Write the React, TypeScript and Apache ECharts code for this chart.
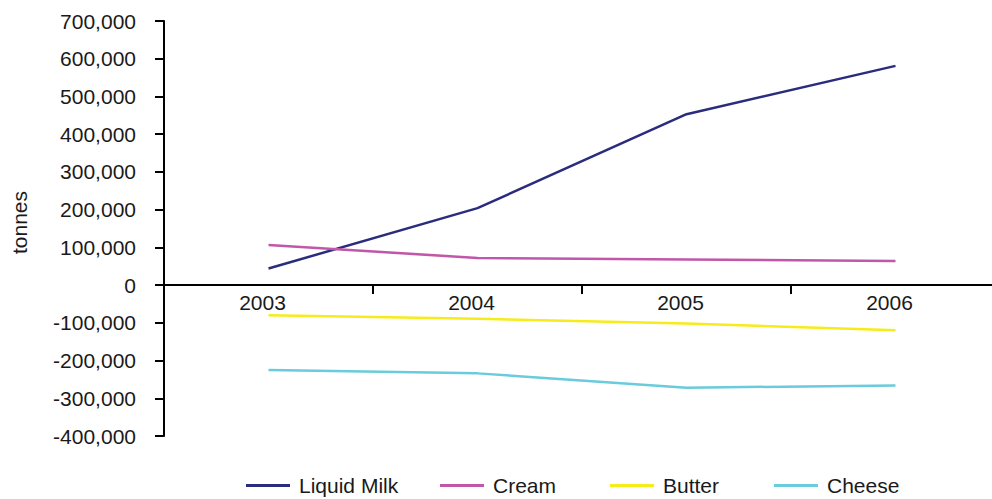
import React, { useEffect, useRef } from "react";
import * as echarts from "echarts";

const years = ["2003", "2004", "2005", "2006"];
const liquidMilk = [44000, 204000, 453000, 581000];
const cream = [106000, 72000, 68000, 64000];
const butter = [-80000, -89000, -102000, -120000];
const cheese = [-225000, -234000, -272000, -266000];

const seriesNames = ["Liquid Milk", "Cream", "Butter", "Cheese"];
const seriesColors = ["#2B2C7D", "#C157A9", "#F6EC1A", "#6ACBDC"];
const seriesData = [liquidMilk, cream, butter, cheese];
const legendLefts = [241, 435, 605, 769];

const FONT = "'Liberation Sans', Arial, sans-serif";

export default function App() {
  const ref = useRef<HTMLDivElement>(null);
  useEffect(() => {
    if (!ref.current) return;
    const chart = echarts.init(ref.current, null, { renderer: "svg" });
    const fmt = (v: number) => {
      const s = Math.abs(v).toString().replace(/\B(?=(\d{3})+(?!\d))/g, ",");
      return (v < 0 ? "-" : "") + s;
    };
    chart.setOption({
      animation: false,
      backgroundColor: "#ffffff",
      textStyle: { fontFamily: FONT },
      grid: { left: 164, right: 0, top: 21, bottom: 63, containLabel: false },
      legend: seriesNames.map((n, i) => ({
        data: [n],
        left: legendLefts[i],
        top: 470,
        icon: "rect",
        itemWidth: 44,
        itemHeight: 3,
        itemGap: 9,
        textStyle: {
          fontSize: 21,
          lineHeight: 21,
          color: "#1a1a1a",
          fontFamily: FONT,
          padding: [0, 0, 0, 4],
        },
      })),
      xAxis: {
        type: "category",
        data: years,
        boundaryGap: true,
        offset: -151,
        axisLine: { onZero: false, lineStyle: { color: "#000", width: 2 } },
        axisTick: { show: true, length: 9, lineStyle: { color: "#000", width: 2 } },
        axisLabel: {
          fontSize: 21,
          color: "#1a1a1a",
          margin: 7,
          fontFamily: FONT,
          padding: [0, 12, 0, 0],
        },
        splitLine: { show: false },
      },
      yAxis: {
        type: "value",
        min: -400000,
        max: 700000,
        interval: 100000,
        name: "tonnes",
        nameLocation: "middle",
        nameRotate: 90,
        nameGap: 134,
        nameTextStyle: {
          fontSize: 21,
          color: "#1a1a1a",
          fontFamily: FONT,
          padding: [0, 0, 0, 12],
        },
        axisLine: { show: true, lineStyle: { color: "#000", width: 2 } },
        axisTick: { show: true, length: 9, lineStyle: { color: "#000", width: 2 } },
        axisLabel: { fontSize: 21, color: "#1a1a1a", margin: 28, formatter: fmt, fontFamily: FONT },
        splitLine: { show: false },
      },
      series: seriesNames.map((n, i) => ({
        name: n,
        type: "line",
        data: seriesData[i],
        symbol: "none",
        showSymbol: false,
        lineStyle: { color: seriesColors[i], width: 2.5 },
        itemStyle: { color: seriesColors[i] },
      })),
    });
    return () => chart.dispose();
  }, []);
  return (
    <div
      style={{
        position: "absolute",
        left: 0,
        top: 0,
        width: 992,
        height: 499,
        overflow: "hidden",
      }}
    >
      <div ref={ref} style={{ width: 1000, height: 499 }} />
    </div>
  );
}
